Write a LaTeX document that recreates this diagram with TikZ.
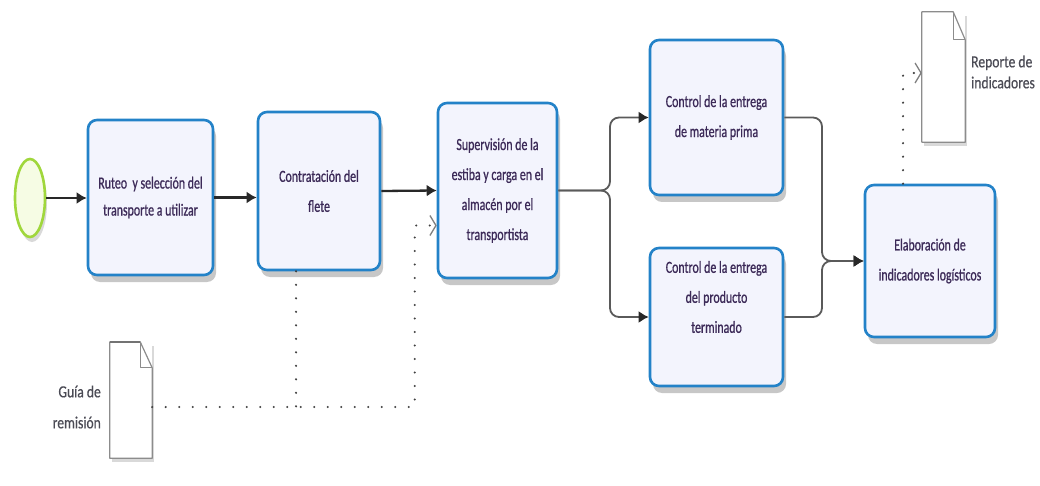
\documentclass[tikz,border=0pt]{standalone}
\usepackage{fontspec}
\usetikzlibrary{arrows.meta,shapes.geometric,shadows}
\newfontfamily\boxfont[FakeStretch=0.7,FakeBold=0.8]{Carlito}
\newfontfamily\lblfont[FakeStretch=0.8,FakeBold=0.5]{Carlito}
\definecolor{taskblue}{RGB}{35,130,200}
\definecolor{taskfill}{RGB}{243,244,253}
\definecolor{txt}{RGB}{60,42,88}
\definecolor{doctxt}{RGB}{75,75,85}
\definecolor{startgreen}{RGB}{160,215,60}
\definecolor{startfill}{RGB}{246,252,228}
\definecolor{flowcol}{RGB}{40,40,40}
\definecolor{forkcol}{RGB}{90,90,90}
\tikzset{
  task/.style={draw=taskblue, line width=2.6pt, fill=taskfill, rounded corners=9pt,
    inner sep=0pt, font=\boxfont\fontsize{17}{30}\selectfont, text=txt, align=center,
    drop shadow={shadow xshift=3pt, shadow yshift=-7pt, opacity=0.22, fill=black}},
  tasktext/.style={inner sep=0pt, font=\boxfont\fontsize{17}{30}\selectfont, text=txt, align=center},
  startev/.style={ellipse, draw=startgreen, line width=2.6pt, fill=startfill,
    minimum width=30pt, minimum height=78pt, inner sep=0pt,
    drop shadow={shadow xshift=2pt, shadow yshift=-5pt, opacity=0.15, fill=black}},
  docbox/.style={inner sep=0pt, fill=white,
    drop shadow={shadow xshift=2pt, shadow yshift=-4pt, opacity=0.15, fill=black}},
  docline/.style={draw=black!45, line width=1.2pt, line join=round},
  doclabel/.style={inner sep=0pt, font=\lblfont\fontsize{17}{31}\selectfont, text=doctxt},
  flow/.style={draw=flowcol, line width=2.3pt, -{Latex[length=10pt,width=12pt]}},
  forkflow/.style={draw=forkcol, line width=1.8pt, rounded corners=9pt, -{Latex[length=10pt,width=12pt,color=flowcol]}},
  assoc/.style={draw=black!75, line width=2.4pt, line cap=round, dash pattern=on 0pt off 13.5pt,
    -{Straight Barb[length=6pt,width=20pt,line width=1.3pt,color=black!50]}},
  assocplain/.style={draw=black!75, line width=2.4pt, line cap=round, dash pattern=on 0pt off 13.5pt},
}
\begin{document}
\begin{tikzpicture}[x=1pt,y=-1pt]
\useasboundingbox (0,0) rectangle (1040,486);

% start event
\node[startev] (start) at (30,198) {};

% tasks
\node[task, minimum width=125pt, minimum height=155pt] (b1) at (150.5,197.5)
  {Ruteo \ y selección del\\[-3pt]transporte a utilizar};
\node[task, minimum width=122pt, minimum height=158pt] (b2) at (319,191)
  {Contratación del\\flete};
\node[task, minimum width=119pt, minimum height=175pt] (b3) at (497.5,190.5)
  {\fontsize{17}{31.5}\selectfont Supervisión de la\\estiba y carga en el\\almacén por el\\transportista};
\node[task, minimum width=133pt, minimum height=155pt] (b4) at (716.5,117.5)
  {Control de la entrega\\de materia prima};
\node[task, minimum width=133pt, minimum height=138pt] (b5) at (716.5,317) {};
\node[tasktext] (b5t) at (716.5,297)
  {\fontsize{17}{31.5}\selectfont Control de la entrega\\del producto\\terminado};
\node[task, minimum width=130pt, minimum height=152pt] (b6) at (930,261)
  {\fontsize{17}{35}\selectfont Elaboración de\\indicadores logísticos};

% documents
\node[docbox, minimum width=42pt, minimum height=116pt] (guia) at (131,400) {};
\draw[docline, fill=white] (guia.north west) -- ([xshift=-12pt]guia.north east)
  -- ([yshift=-26pt]guia.north east) -- (guia.south east) -- (guia.south west) -- cycle;
\draw[docline] ([xshift=-12pt]guia.north east) -- ([xshift=-12pt,yshift=-26pt]guia.north east)
  -- ([yshift=-26pt]guia.north east);
\draw[draw=black!55, line width=2.2pt] (guia.north west) -- ([xshift=-12pt]guia.north east);
\node[doclabel, align=right, anchor=east] (guialbl) at (101,407) {Guía de\\remisión};

\node[docbox, minimum width=43pt, minimum height=130pt] (rep) at (943.5,77) {};
\draw[docline, fill=white] (rep.north west) -- ([xshift=-12pt]rep.north east)
  -- ([yshift=-28pt]rep.north east) -- (rep.south east) -- (rep.south west) -- cycle;
\draw[docline] ([xshift=-12pt]rep.north east) -- ([xshift=-12pt,yshift=-28pt]rep.north east)
  -- ([yshift=-28pt]rep.north east);
\node[doclabel, align=left, anchor=west, font=\lblfont\fontsize{17}{21}\selectfont] (replbl) at (971,72)
  {Reporte de\\indicadores};

% sequence flows
\draw[flow] (start.east) -- (b1.west |- start.east);
\draw[flow] (b1.east) -- (b1.east -| b2.west);
\draw[flow] (b2.east) -- (b3.west);
\draw[forkflow] (b3.east) -- (610,190.5) |- (b4.west);
\draw[forkflow] (b3.east) -- (610,190.5) |- (b5.west);
\draw[forkflow] (b4.east) -| (822,261) -- (b6.west);
\draw[forkflow] (b5.east) -| (822,261) -- (b6.west);

% associations
\draw[assoc] ([yshift=-7pt]guia.east) -| ([xshift=-22pt,yshift=-35pt]b3.west) -- ([yshift=-35pt]b3.west);
\draw[assocplain] ([xshift=-23pt]b2.south) -- ++(0,137);
\draw[assoc] ([xshift=-27pt]b6.north) |- ([yshift=4pt]rep.west);
\end{tikzpicture}
\end{document}
